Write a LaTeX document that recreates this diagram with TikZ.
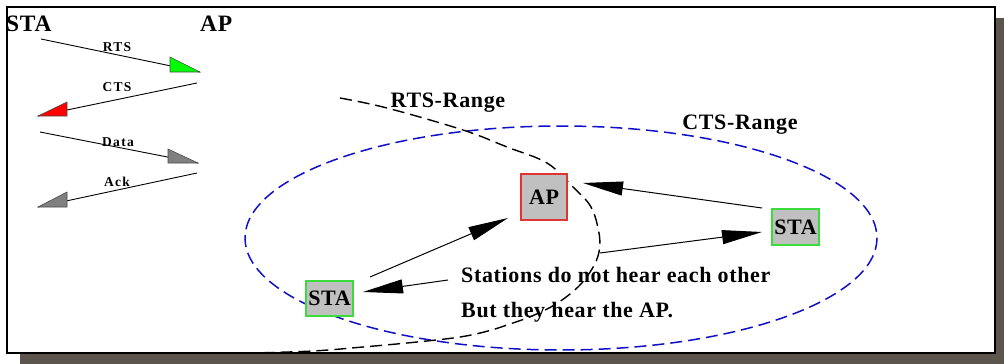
\documentclass[tikz,border=0pt]{standalone}
\usepackage{fontspec}
\setmainfont{Liberation Serif}
\usetikzlibrary{arrows.meta}
\definecolor{shadowc}{HTML}{5B554D}
\definecolor{boxgrey}{HTML}{C0C0C0}
\definecolor{apred}{HTML}{E03434}
\definecolor{stagreen}{HTML}{3ADB3A}
\definecolor{rangeblue}{HTML}{1010C8}
\definecolor{arrgrey}{HTML}{808080}
\tikzset{
  bigfont/.style={font=\fontsize{22}{26}\selectfont\bfseries\addfontfeature{LetterSpace=3}},
  headfont/.style={font=\fontsize{23.5}{27}\selectfont\bfseries\addfontfeature{LetterSpace=3}},
  smallfont/.style={font=\fontsize{13.5}{16}\selectfont\bfseries\addfontfeature{LetterSpace=10}},
  devbox/.style={draw, line width=1.4, fill=boxgrey, inner sep=0pt, bigfont},
  msgline/.style={line width=0.9, black},
  msgtip/.style={draw=black!70, line width=0.6},
  bigarrow/.style={line width=1, -{Triangle[length=40pt,width=14pt]}},
  rangeline/.style={line width=1.5, dash pattern=on 12pt off 6pt},
}
\begin{document}
\begin{tikzpicture}[x=1pt,y=-1pt]
\useasboundingbox (0,0) rectangle (1004,364);
% shadow and frame
\fill[shadowc] (20,353) rectangle (1004,364);
\fill[shadowc] (995,18) rectangle (1004,364);
\fill[white] (7,7) rectangle (995,353);
\draw[line width=1.6] (7,7) rectangle (995,353);

% top-left message sequence
\node[headfont, anchor=base west, inner sep=0pt] (lsta) at (6,31) {STA};
\node[headfont, anchor=base west, inner sep=0pt] (lap) at (200,31) {AP};

\coordinate (r1) at (41,39);  \coordinate (r2) at (200,72);
\coordinate (c1) at (197,83); \coordinate (c2) at (38,116);
\coordinate (d1) at (40,132); \coordinate (d2) at (198,163);
\coordinate (k1) at (197,173);\coordinate (k2) at (38,207);
\draw[msgline] (r1) -- (r2);
\draw[msgline] (c1) -- (c2);
\draw[msgline] (d1) -- (d2);
\draw[msgline] (k1) -- (k2);
\filldraw[msgtip, fill=green] (170,57) -- (170,72) -- (r2) -- cycle;
\filldraw[msgtip, fill=red] (67,102) -- (67,116) -- (c2) -- cycle;
\filldraw[msgtip, fill=arrgrey] (168,149) -- (168,163) -- (d2) -- cycle;
\filldraw[msgtip, fill=arrgrey] (67,192) -- (67,207) -- (k2) -- cycle;
\node[smallfont] (lrts) at (117,47) {RTS};
\node[smallfont] (lcts) at (117,87) {CTS};
\node[smallfont] (ldata) at (118,142) {Data};
\node[smallfont] (lack) at (117,182) {Ack};

% CTS range ellipse
\draw[rangeline, rangeblue] (561,238) ellipse [x radius=316, y radius=112];
\node[bigfont, inner sep=0pt] (ctsr) at (740,125) {CTS-Range};

% RTS range curve
\draw[rangeline, black, line width=1.4] plot[smooth, tension=0.6] coordinates {
 (340,98) (387,108) (463,130) (507,147) (547,163) (573,187) (591,207) (599,233)
 (599,252) (592,269) (578,287) (556,304) (532,316) (510,324) (488,331) (460,337)
 (417,342) (363,347) (313,351) (253,353)};
\node[bigfont, inner sep=0pt] (rtsr) at (448,103) {RTS-Range};

% devices
\node[devbox, draw=apred, minimum width=46, minimum height=46] (ap) at (544,197) {AP};
\node[devbox, draw=stagreen, minimum width=47, minimum height=35] (stal) at (329.5,298.5) {STA};
\node[devbox, draw=stagreen, minimum width=47, minimum height=36] (star) at (795.5,227) {STA};

% arrows
\coordinate (a1s) at (370,277); \coordinate (a1e) at (508,218);
\coordinate (a2s) at (448,280); \coordinate (a2e) at (363,292);
\coordinate (a3s) at (762,208); \coordinate (a3e) at (583,183);
\coordinate (a4s) at (600,253); \coordinate (a4e) at (762,232);
\draw[bigarrow] (a1s) -- (a1e);
\draw[bigarrow] (a2s) -- (a2e);
\draw[bigarrow] (a3s) -- (a3e);
\draw[bigarrow] (a4s) -- (a4e);

% explanation text
\node[bigfont, anchor=base west, inner sep=0pt] (t1) at (461,282) {Stations do not hear each other};
\node[bigfont, anchor=base west, inner sep=0pt] (t2) at (461,317) {But they hear the AP.};
\end{tikzpicture}
\end{document}
